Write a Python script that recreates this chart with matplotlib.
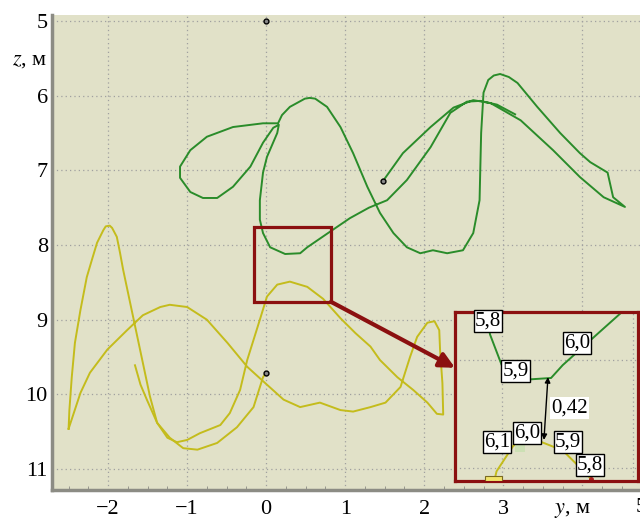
import matplotlib
matplotlib.use("Agg")
import matplotlib.pyplot as plt
from matplotlib.patches import Rectangle

plt.rcParams['font.family'] = ['Liberation Serif', 'DejaVu Serif']
plt.rcParams['mathtext.fontset'] = 'stix'
plt.rcParams['axes.unicode_minus'] = True

# ---------- Data (y, z in metres) ----------
green_y = [1.48, 1.73, 2.08, 2.37, 2.62, 2.84, 3.22, 3.63, 3.97, 4.27, 4.54,
           4.39, 4.32, 4.10, 3.97, 3.72, 3.43, 3.18, 3.07, 2.96, 2.88, 2.81,
           2.75, 2.72, 2.70, 2.62, 2.49, 2.29, 2.11, 1.95, 1.78, 1.61, 1.44,
           1.28, 1.10, 0.94, 0.77, 0.62, 0.55, 0.49, 0.30, 0.20, 0.15,
           -0.04, -0.42, -0.75, -0.96, -1.09, -1.09, -0.96, -0.80, -0.62,
           -0.42, -0.20, -0.04, 0.09, 0.16,
           0.14, 0.01, -0.04, -0.08, -0.08, -0.04, 0.05, 0.24, 0.43, 0.52,
           0.81, 1.06, 1.30, 1.53, 1.78, 2.08, 2.33, 2.54, 2.71, 2.92, 3.15]
green_z = [7.14, 6.77, 6.42, 6.16, 6.06, 6.10, 6.33, 6.73, 7.09, 7.36, 7.49,
           7.36, 7.03, 6.89, 6.77, 6.50, 6.15, 5.83, 5.75, 5.71, 5.73, 5.79,
           5.96, 6.50, 7.40, 7.84, 8.07, 8.11, 8.07, 8.11, 8.03, 7.84, 7.57,
           7.22, 6.77, 6.42, 6.15, 6.04, 6.03, 6.04, 6.15, 6.26, 6.37,
           6.37, 6.42, 6.55, 6.73, 6.95, 7.10, 7.29, 7.37, 7.37,
           7.22, 6.95, 6.63, 6.43, 6.39,
           6.50, 6.82, 7.03, 7.40, 7.66, 7.84, 8.03, 8.12, 8.11, 8.03,
           7.82, 7.64, 7.50, 7.40, 7.13, 6.69, 6.23, 6.08, 6.07, 6.12, 6.25]

yellow_y = [-2.50, -2.35, -2.23, -2.01, -1.76, -1.56, -1.34, -1.22, -1.00,
            -0.75, -0.49, -0.24, 0.01, 0.22, 0.43, 0.68, 0.94, 1.10, 1.32,
            1.51, 1.70, 1.82, 1.91, 2.04, 2.13, 2.19, 2.20, 2.23, 2.24,
            2.16, 2.04, 1.86, 1.66, 1.44, 1.32, 1.13, 0.94, 0.72, 0.52, 0.30,
            0.14, 0.01, -0.08, -0.16, -0.24, -0.33, -0.46, -0.58, -0.84,
            -1.00, -1.13, -1.25, -1.38, -1.47, -1.56, -1.63, -1.72, -1.81,
            -1.85, -1.89, -1.95, -1.98, -2.03, -2.06, -2.14, -2.20, -2.27,
            -2.35, -2.42, -2.46, -2.49, -2.50]
yellow_z = [10.46, 9.98, 9.71, 9.40, 9.14, 8.94, 8.83, 8.80, 8.83,
            9.00, 9.31, 9.63, 9.87, 10.07, 10.17, 10.11, 10.21, 10.23, 10.17,
            10.11, 9.90, 9.50, 9.23, 9.04, 9.02, 9.14, 9.40, 9.85, 10.27,
            10.26, 10.11, 9.94, 9.77, 9.54, 9.36, 9.18, 8.98, 8.72, 8.56, 8.49,
            8.53, 8.69, 9.00, 9.27, 9.54, 9.94, 10.25, 10.41, 10.52,
            10.61, 10.64, 10.58, 10.38, 10.03, 9.58, 9.23, 8.78, 8.33,
            8.10, 7.89, 7.77, 7.74, 7.75, 7.80, 7.97, 8.18, 8.43,
            8.87, 9.31, 9.77, 10.21, 10.46]

tail_y = [0.00, -0.04, -0.16, -0.37, -0.62, -0.87, -1.05, -1.22, -1.38,
          -1.51, -1.59, -1.66]
tail_z = [9.71, 9.77, 10.17, 10.44, 10.65, 10.74, 10.72, 10.58, 10.38,
          10.07, 9.87, 9.61]

dots_y = [0.0, 1.48, 0.0]
dots_z = [5.0, 7.14, 9.71]

x_ticks = [-2, -1, 0, 1, 2, 3, 4]
x_tick_labels = ['\u22122', '\u22121', '0', '1', '2', '3', '']
z_ticks = [5, 6, 7, 8, 9, 10, 11]

# time labels in the inset (text, x, y in inset axes fraction)
inset_labels = [('5,8', 0.18, 0.947), ('5,9', 0.33, 0.65), ('6,0', 0.667, 0.817),
                ('6,1', 0.23, 0.23), ('6,0', 0.393, 0.284), ('5,9', 0.617, 0.23),
                ('5,8', 0.738, 0.095)]
mark_y = [-0.05, 0.15, 0.30, 0.50, 0.74]
mark_z = [7.80, 8.09, 8.49, 8.555, 8.74]

bg = '#e1e1c8'
green = '#2a8c2a'
yellow = '#c4bc1c'
dark_red = '#8b1010'
grid_style = dict(ls=(0, (1, 2.5)), color='#a0a0a0', lw=0.9)

# ---------- Figure ----------
fig = plt.figure(figsize=(6.4, 5.2), dpi=100)
ax = fig.add_axes([52 / 640, 30 / 520, 588 / 640, 475 / 520])
ax.set_facecolor(bg)

ax.plot(green_y, green_z, color=green, lw=1.4)
ax.plot(yellow_y, yellow_z, color=yellow, lw=1.4)
ax.plot(tail_y, tail_z, color=yellow, lw=1.4)
ax.plot(dots_y, dots_z, 'o', ms=3.5, mfc='#888888', mec='black', mew=1)

ax.set_xlim(-2.71, 4.73)
ax.set_ylim(11.28, 4.92)
ax.set_xticks(x_ticks)
ax.set_xticklabels(x_tick_labels)
ax.set_yticks(z_ticks)
ax.set_xticks([v / 4 for v in range(-10, 19)], minor=True)
ax.grid(True, **grid_style)
ax.tick_params(which='major', length=0, labelsize=16)
ax.tick_params(axis='x', which='major', pad=7)
ax.tick_params(axis='y', which='major', pad=3)
ax.tick_params(axis='x', which='minor', direction='in', length=3, color='#8c8c84')
for side in ['top', 'right']:
    ax.spines[side].set_visible(False)
for side in ['left', 'bottom']:
    ax.spines[side].set_color('#8c8c84')
    ax.spines[side].set_linewidth(2.5)

ax.add_patch(Rectangle((-0.15, 7.76), 0.97, 1.0, fill=False, ec=dark_red, lw=2.3, zorder=5))

# ---------- Inset ----------
ins = fig.add_axes([455 / 640, 39 / 520, 183 / 640, 169 / 520])
ins.set_facecolor(bg)
ins.plot(green_y, green_z, color=green, lw=1.4)
ins.plot(yellow_y, yellow_z, color=yellow, lw=1.4)
ins.plot(mark_y, mark_z, 'o', ms=2.5, color='#b02020')
ins.set_xlim(-0.31, 1.10)
ins.set_ylim(8.75, 7.70)
ins.set_xticks([0.05, 1.06])
ins.set_yticks([8.0, 8.67])
ins.grid(True, **grid_style)
ins.tick_params(length=0, labelbottom=False, labelleft=False)
for side in ins.spines.values():
    side.set_color(dark_red)
    side.set_linewidth(2.3)

ins.add_patch(Rectangle((0.33, 0.17), 0.05, 0.06, transform=ins.transAxes,
                        fc='#cce0b4', ec='none', zorder=3))
ins.add_patch(Rectangle((0.165, 0.0), 0.09, 0.03, transform=ins.transAxes,
                        fc='#f2e468', ec='#7a6a20', lw=0.8, zorder=3))

for txt, lx, ly in inset_labels:
    ins.text(lx, ly, txt, transform=ins.transAxes, ha='center', va='center',
             fontsize=15, zorder=6,
             bbox=dict(boxstyle='square,pad=0.06', fc='white', ec='black', lw=1))
ins.text(0.628, 0.432, '0,42', transform=ins.transAxes, ha='center', va='center',
         fontsize=15, zorder=6, bbox=dict(boxstyle='square,pad=0.06', fc='white', ec='none'))
ins.annotate('', xy=(0.486, 0.243), xytext=(0.508, 0.615), xycoords='axes fraction',
             arrowprops=dict(arrowstyle='<|-|>', color='black', lw=1, mutation_scale=8,
                             shrinkA=0, shrinkB=0))

# connecting arrow from the box to the inset
ax.annotate('', xy=(0.0, 0.67), xycoords=ins.transAxes, xytext=(0.82, 8.76),
            textcoords='data',
            arrowprops=dict(arrowstyle='-|>,head_length=0.9,head_width=0.45',
                            color=dark_red, lw=3, shrinkA=0, shrinkB=0))

# ---------- Axis titles ----------
fig.text(30 / 640, 1 - 60 / 520, '$z$, м', ha='center', va='center', fontsize=16)
fig.text(573 / 640, 1 - 510 / 520, '$y$, м', ha='center', va='center', fontsize=16)
fig.text(636 / 640, 1 - 508 / 520, '5', ha='left', va='center', fontsize=16)

fig.savefig('out.png', dpi=100)
